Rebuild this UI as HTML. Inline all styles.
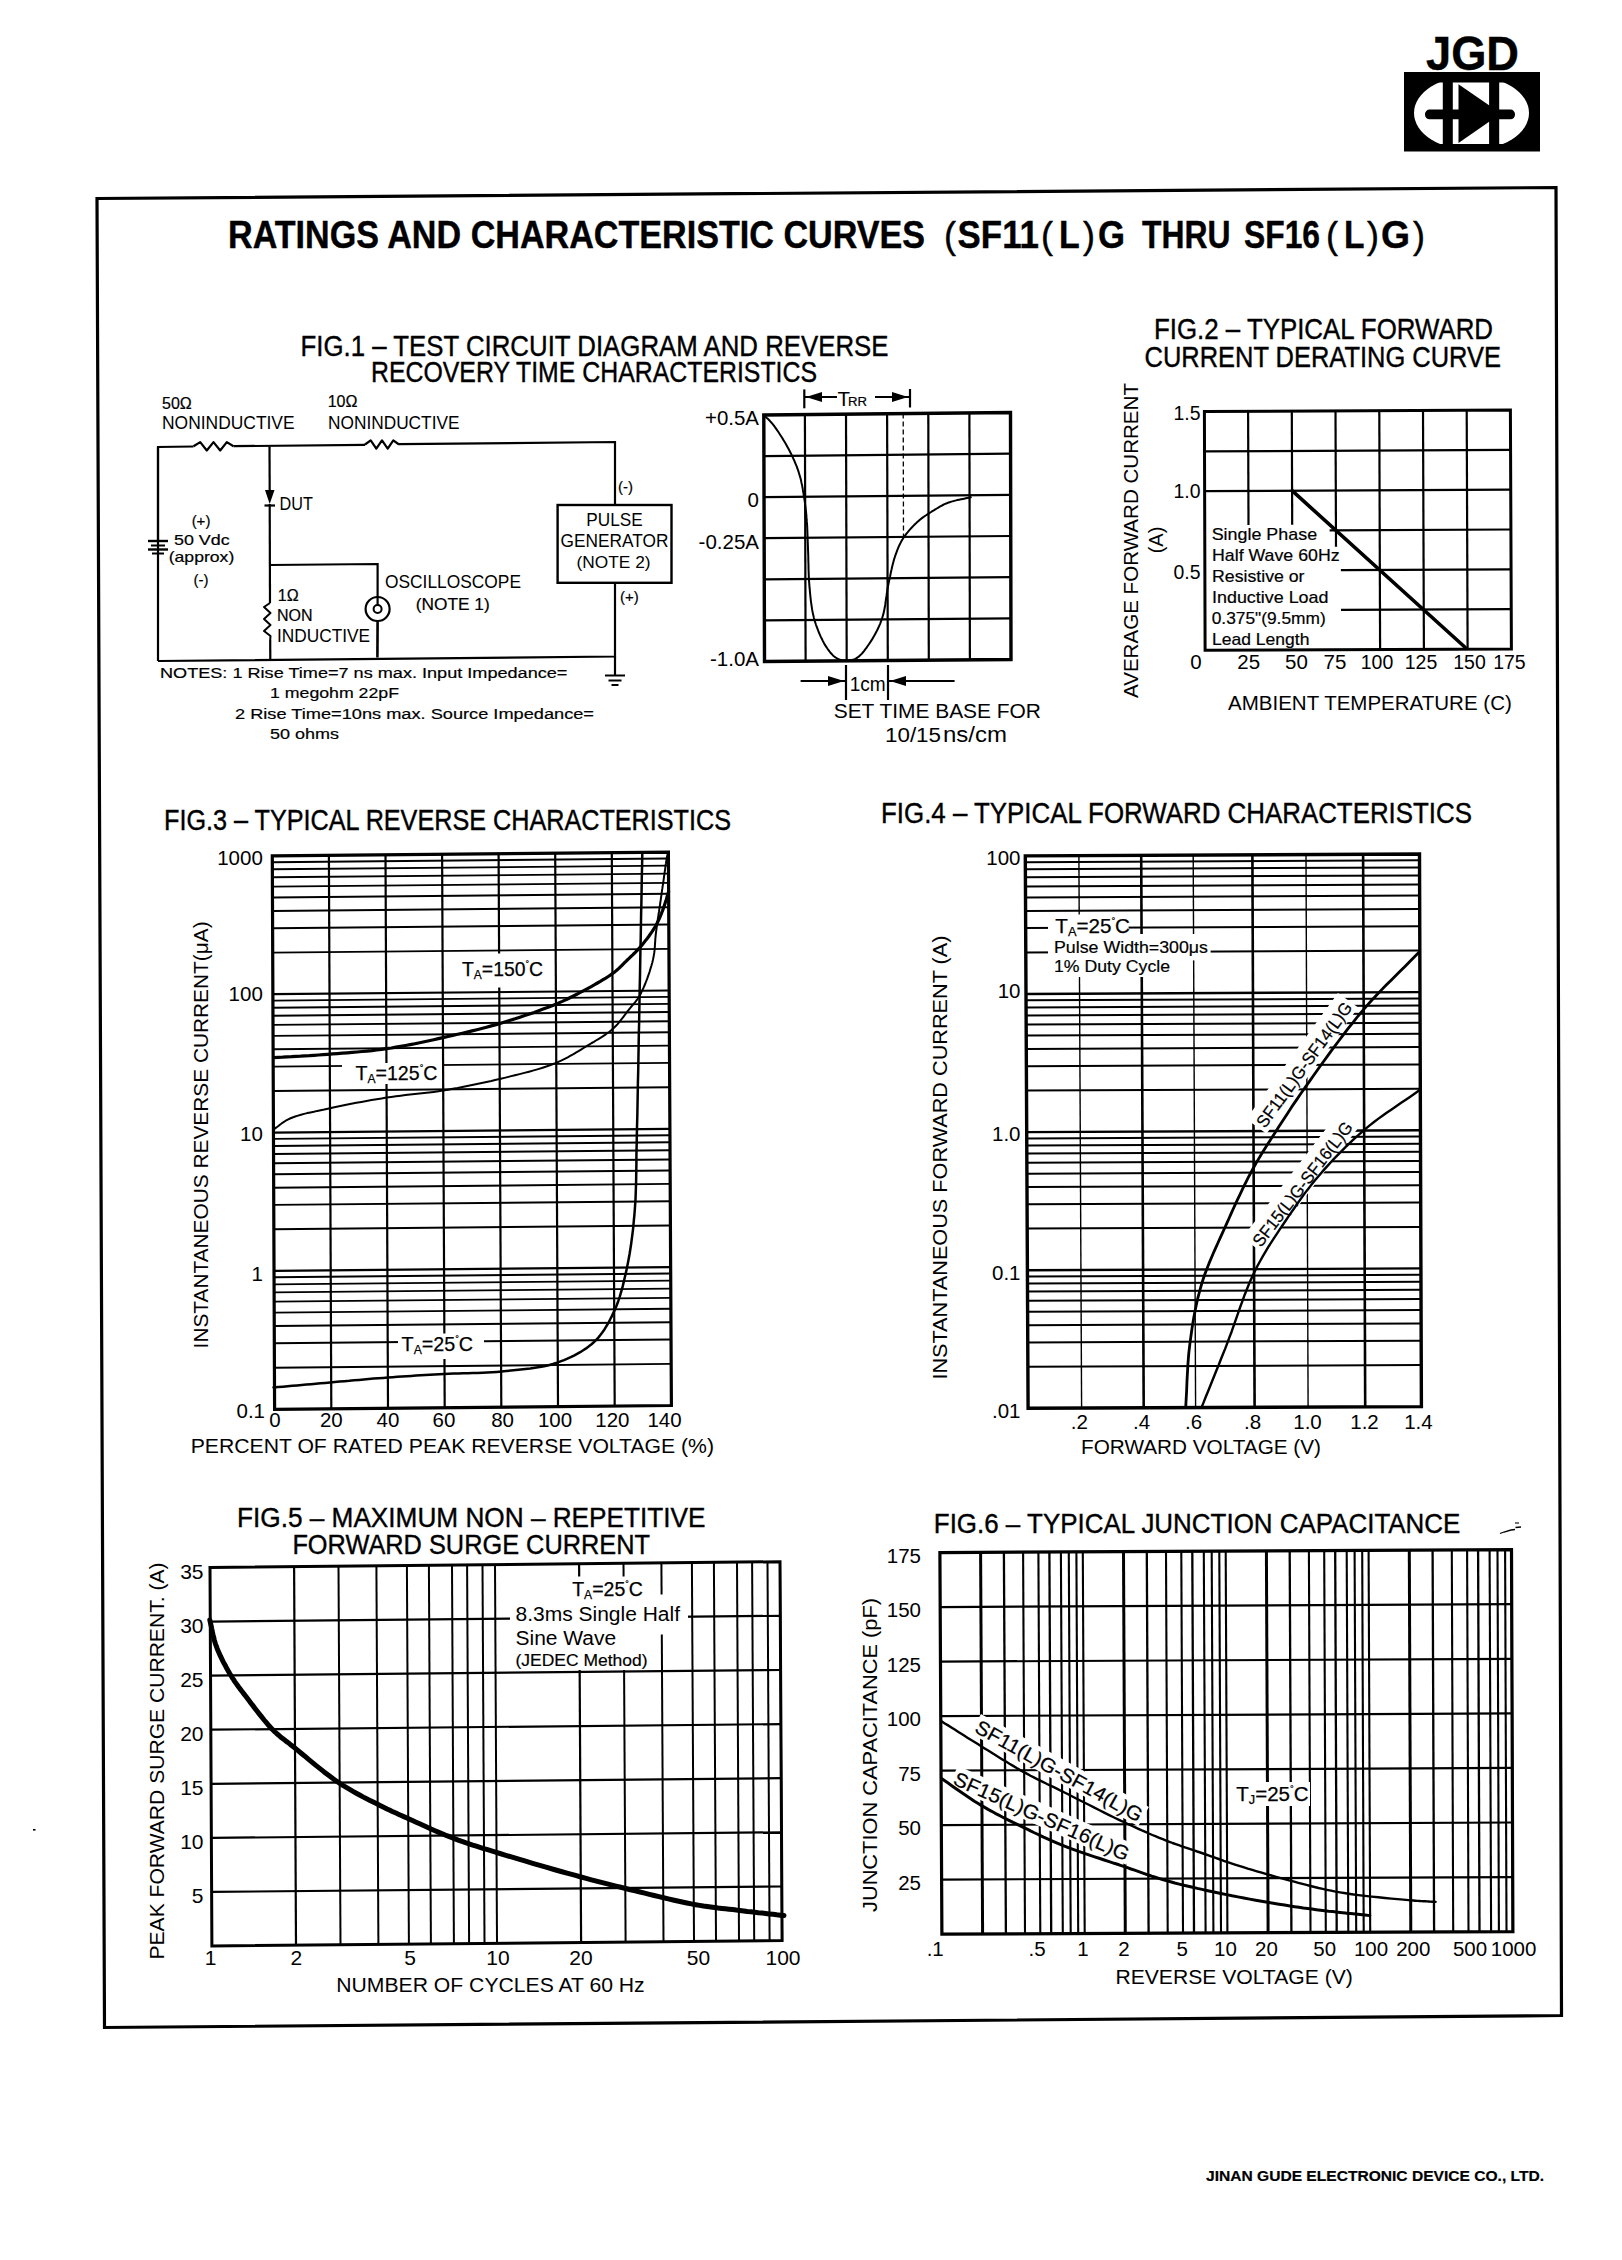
<!DOCTYPE html><html><head><meta charset="utf-8"><style>html,body{margin:0;padding:0;background:#fff;width:1622px;height:2260px;overflow:hidden}svg{display:block}text{font-family:"Liberation Sans",sans-serif;fill:#000;stroke:#000}</style></head><body>
<svg width="1622" height="2260" viewBox="0 0 1622 2260" stroke="#000" fill="none">
<polygon points="97.0,198.5 1556.0,187.5 1561.5,2015.5 104.5,2027.5" stroke-width="3.2" fill="none" stroke-linejoin="miter"/>
<text x="1472.5" y="70.2" font-size="48.5" stroke-width="0.40" text-anchor="middle" font-weight="bold" textLength="93" lengthAdjust="spacingAndGlyphs" >JGD</text>
<rect x="1404" y="72" width="136" height="79.5" fill="#000" stroke="none"/>
<clipPath id="lc"><rect x="1400" y="82.5" width="150" height="61.5"/></clipPath>
<ellipse cx="1471.5" cy="113" rx="57.5" ry="37" fill="#fff" stroke="none" clip-path="url(#lc)"/>
<rect x="1425" y="109.6" width="90" height="9.6" rx="4.5" fill="#000" stroke="none"/>
<rect x="1442.8" y="80" width="10" height="66" fill="#000" stroke="none"/>
<rect x="1489.1" y="80" width="10.1" height="66" fill="#000" stroke="none"/>
<polygon points="1458.5,84.2 1501,113.5 1458.5,143" fill="#000" stroke="none"/>
<text x="228.0" y="248.4" font-size="39" stroke-width="0.40" font-weight="bold" textLength="697" lengthAdjust="spacingAndGlyphs" >RATINGS AND CHARACTERISTIC CURVES</text>
<text x="944.0" y="248.4" font-size="36" stroke-width="0.40" >(</text>
<text x="957.6" y="248.4" font-size="39" stroke-width="0.40" font-weight="bold" textLength="81.4" lengthAdjust="spacingAndGlyphs" >SF11</text>
<text x="1041.0" y="248.4" font-size="36" stroke-width="0.40" >(</text>
<text x="1059.0" y="248.4" font-size="39" stroke-width="0.40" font-weight="bold" textLength="20.7" lengthAdjust="spacingAndGlyphs" >L</text>
<text x="1083.0" y="248.4" font-size="36" stroke-width="0.40" >)</text>
<text x="1098.0" y="248.4" font-size="39" stroke-width="0.40" font-weight="bold" textLength="27" lengthAdjust="spacingAndGlyphs" >G</text>
<text x="1142.0" y="248.4" font-size="39" stroke-width="0.40" font-weight="bold" textLength="88.5" lengthAdjust="spacingAndGlyphs" >THRU</text>
<text x="1244.0" y="248.4" font-size="39" stroke-width="0.40" font-weight="bold" textLength="76" lengthAdjust="spacingAndGlyphs" >SF16</text>
<text x="1326.0" y="248.4" font-size="36" stroke-width="0.40" >(</text>
<text x="1344.0" y="248.4" font-size="39" stroke-width="0.40" font-weight="bold" textLength="20.5" lengthAdjust="spacingAndGlyphs" >L</text>
<text x="1367.0" y="248.4" font-size="36" stroke-width="0.40" >)</text>
<text x="1381.0" y="248.4" font-size="39" stroke-width="0.40" font-weight="bold" textLength="29" lengthAdjust="spacingAndGlyphs" >G</text>
<text x="1413.0" y="248.4" font-size="36" stroke-width="0.40" >)</text>
<text x="1206.0" y="2181.4" font-size="14.6" stroke-width="0.20" font-weight="bold" textLength="338" lengthAdjust="spacingAndGlyphs" >JINAN GUDE ELECTRONIC DEVICE CO., LTD.</text>
<rect x="33" y="1829" width="2.5" height="1.6" fill="#000" stroke="none"/>
<text x="300.5" y="355.7" font-size="29" stroke-width="0.40" textLength="588" lengthAdjust="spacingAndGlyphs" >FIG.1 – TEST CIRCUIT DIAGRAM AND REVERSE</text>
<text x="371.0" y="382.1" font-size="29" stroke-width="0.40" textLength="446" lengthAdjust="spacingAndGlyphs" >RECOVERY TIME CHARACTERISTICS</text>
<polyline points="158.0,661.0 158.0,447.0 193.5,446.5" stroke-width="2.2" fill="none" />
<polyline points="193.5,446.3 200.2,442.1 206.8,450.5 213.5,442.1 220.2,450.5 226.8,442.1 233.5,446.3" stroke-width="2.2" fill="none" stroke-linejoin="round"/>
<polyline points="233.5,446.2 365.0,444.8" stroke-width="2.2" fill="none" />
<polyline points="365.0,444.5 370.7,440.3 376.3,448.7 382.0,440.3 387.7,448.7 393.3,440.3 399.0,444.5" stroke-width="2.2" fill="none" stroke-linejoin="round"/>
<polyline points="399.0,444.2 615.0,442.0 615.0,505.0" stroke-width="2.2" fill="none" />
<line x1="148.0" y1="541.0" x2="168.0" y2="541.0" stroke-width="2.4" />
<line x1="151.0" y1="545.5" x2="165.0" y2="545.5" stroke-width="2.0" />
<line x1="148.0" y1="549.5" x2="168.0" y2="549.5" stroke-width="2.4" />
<line x1="152.0" y1="553.5" x2="164.0" y2="553.5" stroke-width="2.0" />
<line x1="158.0" y1="447.0" x2="158.0" y2="541.0" stroke-width="2.2" />
<polyline points="158.0,661.0 615.0,656.5 615.0,583.0" stroke-width="2.2" fill="none" />
<line x1="615.0" y1="656.5" x2="615.0" y2="675.0" stroke-width="2.2" />
<line x1="605.0" y1="675.5" x2="625.0" y2="675.5" stroke-width="2.0" />
<line x1="608.5" y1="680.5" x2="621.5" y2="680.5" stroke-width="2.0" />
<line x1="611.5" y1="685.0" x2="618.5" y2="685.0" stroke-width="2.0" />
<line x1="269.5" y1="446.5" x2="269.7" y2="490.0" stroke-width="2.2" />
<polygon points="265,490 274.5,490 269.7,504" fill="#000" stroke="none"/>
<line x1="264.5" y1="505.5" x2="275.0" y2="505.5" stroke-width="2.2" />
<line x1="269.7" y1="504.0" x2="270.0" y2="603.0" stroke-width="2.2" />
<polyline points="603.0,0.0 620.2,0.0 637.5,0.0" stroke-width="0" fill="none" />
<polyline points="270.0,603.0 264.0,607.0 270.5,613.0 264.0,619.0 270.5,625.0 264.0,631.0 270.5,636.0 270.2,640.0" stroke-width="2.0" fill="none" stroke-linejoin="round"/>
<line x1="270.2" y1="640.0" x2="270.3" y2="659.0" stroke-width="2.2" />
<polyline points="270.0,565.0 377.6,564.0 377.6,597.0" stroke-width="2.2" fill="none" />
<circle cx="377.6" cy="609" r="12" stroke-width="2.2"/>
<circle cx="377.6" cy="609" r="4" stroke-width="2"/>
<line x1="377.6" y1="605.0" x2="377.6" y2="597.0" stroke-width="2.2" />
<line x1="377.6" y1="621.0" x2="377.4" y2="657.5" stroke-width="2.6" />
<rect x="557.6" y="505" width="113.9" height="77.8" stroke-width="2.4"/>
<text x="162.0" y="408.7" font-size="16" stroke-width="0.20" >50Ω</text>
<text x="162.0" y="429.0" font-size="18.5" stroke-width="0.00" textLength="132.6" lengthAdjust="spacingAndGlyphs" >NONINDUCTIVE</text>
<text x="327.7" y="406.8" font-size="16" stroke-width="0.20" >10Ω</text>
<text x="328.0" y="428.8" font-size="18.5" stroke-width="0.00" textLength="131.5" lengthAdjust="spacingAndGlyphs" >NONINDUCTIVE</text>
<text x="279.6" y="509.6" font-size="17.5" stroke-width="0.00" textLength="33.3" lengthAdjust="spacingAndGlyphs" >DUT</text>
<text x="201.0" y="526.0" font-size="15" stroke-width="0.20" text-anchor="middle" >(+)</text>
<text x="174.0" y="545.3" font-size="15" stroke-width="0.20" textLength="55.7" lengthAdjust="spacingAndGlyphs" >50 Vdc</text>
<text x="168.7" y="562.0" font-size="15" stroke-width="0.20" textLength="65.6" lengthAdjust="spacingAndGlyphs" >(approx)</text>
<text x="201.0" y="585.0" font-size="15" stroke-width="0.20" text-anchor="middle" >(-)</text>
<text x="277.8" y="600.8" font-size="16" stroke-width="0.20" >1Ω</text>
<text x="277.0" y="621.0" font-size="16" stroke-width="0.20" >NON</text>
<text x="277.0" y="641.5" font-size="17.5" stroke-width="0.00" textLength="93" lengthAdjust="spacingAndGlyphs" >INDUCTIVE</text>
<text x="385.0" y="587.5" font-size="17.5" stroke-width="0.00" textLength="136" lengthAdjust="spacingAndGlyphs" >OSCILLOSCOPE</text>
<text x="415.7" y="609.6" font-size="16.5" stroke-width="0.20" textLength="74" lengthAdjust="spacingAndGlyphs" >(NOTE 1)</text>
<text x="614.5" y="526.0" font-size="17.5" stroke-width="0.00" text-anchor="middle" textLength="56.4" lengthAdjust="spacingAndGlyphs" >PULSE</text>
<text x="614.5" y="546.7" font-size="17.5" stroke-width="0.00" text-anchor="middle" textLength="107.8" lengthAdjust="spacingAndGlyphs" >GENERATOR</text>
<text x="613.6" y="567.5" font-size="17" stroke-width="0.00" text-anchor="middle" textLength="74" lengthAdjust="spacingAndGlyphs" >(NOTE 2)</text>
<text x="618.0" y="492.0" font-size="15" stroke-width="0.20" >(-)</text>
<text x="620.0" y="602.0" font-size="15" stroke-width="0.20" >(+)</text>
<text x="160.0" y="678.0" font-size="15.5" stroke-width="0.20" textLength="407.4" lengthAdjust="spacingAndGlyphs" >NOTES:  1 Rise Time=7 ns max. Input Impedance=</text>
<text x="270.0" y="698.0" font-size="15.5" stroke-width="0.20" textLength="129" lengthAdjust="spacingAndGlyphs" >1 megohm 22pF</text>
<text x="235.0" y="718.6" font-size="15.5" stroke-width="0.20" textLength="359" lengthAdjust="spacingAndGlyphs" >2  Rise Time=10ns max. Source Impedance=</text>
<text x="270.0" y="739.0" font-size="15.5" stroke-width="0.20" textLength="69" lengthAdjust="spacingAndGlyphs" >50 ohms</text>
<line x1="804.9" y1="414.6" x2="805.6" y2="661.2" stroke-width="2.2" />
<line x1="763.9" y1="456.1" x2="1010.6" y2="453.7" stroke-width="2.2" />
<line x1="846.0" y1="414.2" x2="846.7" y2="660.8" stroke-width="2.2" />
<line x1="764.0" y1="497.2" x2="1010.7" y2="494.8" stroke-width="2.2" />
<line x1="887.1" y1="413.8" x2="887.8" y2="660.5" stroke-width="2.2" />
<line x1="764.1" y1="538.2" x2="1010.8" y2="536.0" stroke-width="2.2" />
<line x1="928.3" y1="413.3" x2="928.8" y2="660.2" stroke-width="2.2" />
<line x1="764.3" y1="579.3" x2="1010.8" y2="577.2" stroke-width="2.2" />
<line x1="969.4" y1="412.9" x2="969.9" y2="659.8" stroke-width="2.2" />
<line x1="764.4" y1="620.4" x2="1010.9" y2="618.3" stroke-width="2.2" />
<polygon points="763.8,415.0 1010.5,412.5 1011.0,659.5 764.5,661.5" stroke-width="3.4" fill="none" />
<line x1="903.2" y1="413.6" x2="903.5" y2="539.0" stroke-width="1.3" stroke-dasharray="5,3"/>
<polyline points="763.8,415.0 764.6,415.8 765.3,416.5 766.0,417.2 766.8,417.9 767.5,418.6 768.3,419.3 769.0,420.0 769.8,420.8 770.5,421.6 771.3,422.5 772.1,423.4 772.9,424.4 774.2,426.0 775.5,427.9 776.9,429.9 778.4,432.0 779.8,434.2 781.3,436.5 782.8,438.9 784.2,441.3 785.6,443.6 786.9,446.0 788.2,448.3 789.4,450.5 790.4,452.5 791.4,454.4 792.3,456.4 793.2,458.4 794.1,460.3 795.0,462.3 795.8,464.3 796.6,466.2 797.3,468.2 798.0,470.2 798.7,472.2 799.3,474.2 799.9,476.2 800.5,478.3 801.0,480.3 801.4,482.4 801.9,484.4 802.3,486.5 802.7,488.6 803.0,490.7 803.4,492.7 803.7,494.8 804.0,496.8 804.3,498.8 804.6,500.7 804.9,502.6 805.1,504.4 805.4,506.3 805.6,508.1 805.8,509.9 806.0,511.7 806.2,513.6 806.4,515.5 806.5,517.4 806.7,519.4 806.8,521.4 807.0,523.9 807.2,526.5 807.3,529.2 807.4,531.9 807.5,534.7 807.6,537.5 807.7,540.3 807.8,543.1 807.9,545.9 808.0,548.7 808.1,551.5 808.2,554.3 808.3,557.0 808.3,559.8 808.4,562.5 808.5,565.3 808.5,568.0 808.6,570.7 808.7,573.5 808.8,576.2 808.9,579.0 809.1,581.7 809.3,584.4 809.5,587.2 809.8,589.9 810.0,592.7 810.3,595.5 810.6,598.3 810.9,601.1 811.3,603.9 811.7,606.6 812.1,609.4 812.6,612.1 813.2,614.8 813.8,617.4 814.5,620.0 815.2,622.4 816.0,624.8 816.9,627.2 817.8,629.6 818.7,632.0 819.7,634.3 820.7,636.6 821.8,638.8 822.8,640.9 823.9,643.0 825.0,644.9 826.1,646.6 826.9,647.8 827.7,649.0 828.5,650.1 829.3,651.2 830.2,652.3 831.0,653.3 831.9,654.2 832.7,655.1 833.6,656.0 834.5,656.7 835.4,657.4 836.4,658.0 837.2,658.5 838.0,658.9 838.8,659.3 839.7,659.6 840.6,659.9 841.4,660.2 842.3,660.4 843.2,660.6 844.1,660.7 844.9,660.8 845.8,660.8 846.7,660.8 847.5,660.8 848.4,660.7 849.3,660.6 850.1,660.5 851.0,660.3 851.9,660.1 852.7,659.8 853.6,659.5 854.4,659.2 855.3,658.8 856.1,658.4 856.9,657.9 858.0,657.2 859.0,656.4 859.9,655.5 860.9,654.6 861.9,653.6 862.8,652.5 863.8,651.3 864.7,650.1 865.6,648.9 866.6,647.6 867.5,646.3 868.4,645.0 869.6,643.2 870.8,641.4 872.1,639.4 873.3,637.3 874.5,635.2 875.7,633.0 876.9,630.8 878.0,628.5 879.1,626.1 880.1,623.8 881.0,621.4 881.9,619.0 882.7,616.3 883.5,613.6 884.1,610.7 884.7,607.8 885.2,604.9 885.6,601.9 886.0,598.9 886.5,595.9 886.9,593.0 887.3,590.1 887.8,587.2 888.4,584.4 888.9,581.9 889.4,579.4 890.0,576.8 890.5,574.3 891.0,571.8 891.6,569.3 892.1,566.9 892.7,564.5 893.3,562.2 893.9,559.9 894.6,557.7 895.3,555.6 895.9,553.9 896.5,552.3 897.1,550.7 897.7,549.2 898.3,547.7 898.9,546.2 899.6,544.8 900.3,543.4 901.0,542.0 901.8,540.6 902.6,539.2 903.5,537.8 904.5,536.3 905.6,534.8 906.7,533.3 908.0,531.8 909.2,530.4 910.5,528.9 911.8,527.5 913.1,526.1 914.4,524.8 915.7,523.6 917.0,522.3 918.2,521.2 919.2,520.4 920.1,519.6 921.1,518.8 922.0,518.1 922.9,517.4 923.8,516.8 924.7,516.1 925.7,515.5 926.6,514.9 927.6,514.2 928.7,513.6 929.7,512.9 931.1,512.0 932.4,511.1 933.8,510.3 935.3,509.4 936.8,508.5 938.3,507.6 939.8,506.7 941.4,505.8 942.9,505.0 944.5,504.2 946.2,503.5 947.8,502.8 949.6,502.2 951.4,501.6 953.3,501.1 955.2,500.6 957.1,500.1 959.1,499.7 961.0,499.3 963.0,498.9 965.0,498.5 966.9,498.1 968.9,497.7 970.8,497.3" stroke-width="2.0" fill="none" stroke-linejoin="round" stroke-linecap="round"/>
<text x="759.0" y="425.0" font-size="20.5" stroke-width="0.00" text-anchor="end" textLength="54" lengthAdjust="spacingAndGlyphs" >+0.5A</text>
<text x="759.0" y="506.5" font-size="20.5" stroke-width="0.00" text-anchor="end" >0</text>
<text x="759.0" y="549.0" font-size="20.5" stroke-width="0.00" text-anchor="end" >-0.25A</text>
<text x="759.0" y="665.5" font-size="20.5" stroke-width="0.00" text-anchor="end" >-1.0A</text>
<line x1="804.3" y1="389.4" x2="804.3" y2="408.3" stroke-width="2.2" />
<line x1="910.0" y1="389.0" x2="910.0" y2="407.5" stroke-width="2.2" />
<line x1="804.3" y1="397.0" x2="837.0" y2="397.0" stroke-width="2.0" />
<polygon points="806,397 822,392 822,402" fill="#000" stroke="none"/>
<line x1="875.0" y1="397.0" x2="910.0" y2="397.0" stroke-width="2.0" />
<polygon points="908,397 892,392 892,402" fill="#000" stroke="none"/>
<text x="837.6" y="405.5" font-size="20.5" stroke-width="0.00" >T</text>
<text x="848.0" y="405.5" font-size="12.5" stroke-width="0.20" textLength="19" lengthAdjust="spacingAndGlyphs" >RR</text>
<line x1="846.0" y1="665.0" x2="846.0" y2="700.0" stroke-width="2.2" />
<line x1="888.0" y1="665.0" x2="888.0" y2="700.0" stroke-width="2.2" />
<line x1="800.6" y1="681.0" x2="846.0" y2="681.0" stroke-width="2.0" />
<polygon points="844,681 828,676 828,686" fill="#000" stroke="none"/>
<line x1="888.0" y1="681.0" x2="954.6" y2="681.0" stroke-width="2.0" />
<polygon points="890,681 906,676 906,686" fill="#000" stroke="none"/>
<text x="849.7" y="691.4" font-size="20" stroke-width="0.00" textLength="36" lengthAdjust="spacingAndGlyphs" >1cm</text>
<text x="833.7" y="717.6" font-size="20.5" stroke-width="0.00" textLength="207.3" lengthAdjust="spacingAndGlyphs" >SET TIME BASE FOR</text>
<text x="885.0" y="741.5" font-size="20.5" stroke-width="0.00" textLength="56" lengthAdjust="spacingAndGlyphs" >10/15</text>
<text x="943.0" y="741.5" font-size="22" stroke-width="0.00" textLength="64" lengthAdjust="spacingAndGlyphs" >ns/cm</text>
<text x="1154.0" y="339.1" font-size="29" stroke-width="0.40" textLength="339" lengthAdjust="spacingAndGlyphs" >FIG.2 – TYPICAL FORWARD</text>
<text x="1144.5" y="367.0" font-size="29" stroke-width="0.40" textLength="356.5" lengthAdjust="spacingAndGlyphs" >CURRENT DERATING CURVE</text>
<line x1="1248.1" y1="411.4" x2="1248.5" y2="524.9" stroke-width="2.2" />
<line x1="1291.8" y1="411.1" x2="1292.2" y2="524.7" stroke-width="2.2" />
<line x1="1335.5" y1="410.9" x2="1336.0" y2="546.7" stroke-width="2.2" />
<line x1="1379.3" y1="410.7" x2="1380.1" y2="649.5" stroke-width="2.2" />
<line x1="1423.0" y1="410.5" x2="1423.9" y2="649.3" stroke-width="2.2" />
<line x1="1466.7" y1="410.2" x2="1467.6" y2="649.1" stroke-width="2.2" />
<line x1="1204.5" y1="451.4" x2="1510.6" y2="449.8" stroke-width="2.2" />
<line x1="1204.6" y1="491.2" x2="1510.7" y2="489.6" stroke-width="2.2" />
<line x1="1329.6" y1="530.3" x2="1510.9" y2="529.5" stroke-width="2.2" />
<line x1="1340.9" y1="570.1" x2="1511.1" y2="569.3" stroke-width="2.2" />
<line x1="1341.0" y1="609.9" x2="1511.2" y2="609.1" stroke-width="2.2" />
<polygon points="1204.4,411.6 1510.4,410.0 1511.4,648.9 1205.1,650.3" stroke-width="3.0" fill="none" />
<line x1="1292.1" y1="490.7" x2="1465.3" y2="647.5" stroke-width="3.6" stroke-linecap="round"/>
<text x="1200.5" y="419.9" font-size="20.5" stroke-width="0.00" text-anchor="end" textLength="27" lengthAdjust="spacingAndGlyphs" >1.5</text>
<text x="1200.5" y="497.6" font-size="20.5" stroke-width="0.00" text-anchor="end" textLength="27" lengthAdjust="spacingAndGlyphs" >1.0</text>
<text x="1200.5" y="579.2" font-size="20.5" stroke-width="0.00" text-anchor="end" textLength="27" lengthAdjust="spacingAndGlyphs" >0.5</text>
<text x="1196.0" y="669.3" font-size="20.5" stroke-width="0.00" text-anchor="middle" >0</text>
<text x="1248.7" y="669.3" font-size="20.5" stroke-width="0.00" text-anchor="middle" >25</text>
<text x="1296.5" y="669.3" font-size="20.5" stroke-width="0.00" text-anchor="middle" >50</text>
<text x="1335.0" y="669.3" font-size="20.5" stroke-width="0.00" text-anchor="middle" >75</text>
<text x="1377.0" y="669.3" font-size="20.5" stroke-width="0.00" text-anchor="middle" textLength="32.5" lengthAdjust="spacingAndGlyphs" >100</text>
<text x="1421.0" y="669.3" font-size="20.5" stroke-width="0.00" text-anchor="middle" textLength="32.5" lengthAdjust="spacingAndGlyphs" >125</text>
<text x="1469.5" y="669.3" font-size="20.5" stroke-width="0.00" text-anchor="middle" textLength="32.5" lengthAdjust="spacingAndGlyphs" >150</text>
<text x="1509.4" y="669.3" font-size="20.5" stroke-width="0.00" text-anchor="middle" textLength="32.5" lengthAdjust="spacingAndGlyphs" >175</text>
<text x="1228.0" y="709.5" font-size="20.5" stroke-width="0.00" textLength="283.8" lengthAdjust="spacingAndGlyphs" >AMBIENT TEMPERATURE (C)</text>
<text x="1137.8" y="698.0" font-size="20.8" stroke-width="0.00" textLength="315" lengthAdjust="spacingAndGlyphs" transform="rotate(-90 1137.8 698.0)" >AVERAGE FORWARD CURRENT</text>
<text x="1163.4" y="540.0" font-size="20" stroke-width="0.00" text-anchor="middle" transform="rotate(-90 1163.4 540.0)" >(A)</text>
<text x="1211.7" y="540.4" font-size="16.2" stroke-width="0.20" textLength="105.4" lengthAdjust="spacingAndGlyphs" >Single Phase</text>
<text x="1212.0" y="561.4" font-size="16.2" stroke-width="0.20" textLength="127.6" lengthAdjust="spacingAndGlyphs" >Half Wave 60Hz</text>
<text x="1212.0" y="582.3" font-size="16.2" stroke-width="0.20" textLength="92.5" lengthAdjust="spacingAndGlyphs" >Resistive or</text>
<text x="1212.0" y="603.3" font-size="16.2" stroke-width="0.20" textLength="116.5" lengthAdjust="spacingAndGlyphs" >Inductive Load</text>
<text x="1211.7" y="623.6" font-size="16.2" stroke-width="0.20" textLength="114" lengthAdjust="spacingAndGlyphs" >0.375"(9.5mm)</text>
<text x="1212.0" y="644.6" font-size="16.2" stroke-width="0.20" textLength="97.4" lengthAdjust="spacingAndGlyphs" >Lead Length</text>
<text x="164.0" y="829.8" font-size="29" stroke-width="0.40" textLength="567" lengthAdjust="spacingAndGlyphs" >FIG.3 – TYPICAL REVERSE CHARACTERISTICS</text>
<line x1="274.4" y1="1367.7" x2="671.2" y2="1363.9" stroke-width="1.9" />
<line x1="274.3" y1="1343.3" x2="671.0" y2="1339.5" stroke-width="1.9" />
<line x1="274.3" y1="1326.0" x2="670.9" y2="1322.2" stroke-width="1.9" />
<line x1="274.2" y1="1312.6" x2="670.9" y2="1308.8" stroke-width="1.9" />
<line x1="274.2" y1="1301.6" x2="670.8" y2="1297.9" stroke-width="1.9" />
<line x1="274.1" y1="1292.4" x2="670.8" y2="1288.6" stroke-width="1.9" />
<line x1="274.1" y1="1284.4" x2="670.7" y2="1280.6" stroke-width="1.9" />
<line x1="274.1" y1="1277.3" x2="670.7" y2="1273.5" stroke-width="1.9" />
<line x1="274.0" y1="1270.9" x2="670.6" y2="1267.2" stroke-width="2.2" />
<line x1="273.9" y1="1229.3" x2="670.4" y2="1225.5" stroke-width="1.9" />
<line x1="273.8" y1="1204.9" x2="670.3" y2="1201.2" stroke-width="1.9" />
<line x1="273.7" y1="1187.7" x2="670.2" y2="1183.9" stroke-width="1.9" />
<line x1="273.6" y1="1174.2" x2="670.1" y2="1170.5" stroke-width="1.9" />
<line x1="273.6" y1="1163.3" x2="670.1" y2="1159.5" stroke-width="1.9" />
<line x1="273.5" y1="1154.0" x2="670.0" y2="1150.3" stroke-width="1.9" />
<line x1="273.5" y1="1146.0" x2="670.0" y2="1142.3" stroke-width="1.9" />
<line x1="273.5" y1="1138.9" x2="669.9" y2="1135.2" stroke-width="1.9" />
<line x1="273.5" y1="1132.6" x2="669.9" y2="1128.8" stroke-width="2.2" />
<line x1="273.3" y1="1091.0" x2="669.7" y2="1087.2" stroke-width="1.9" />
<line x1="273.2" y1="1066.6" x2="669.5" y2="1062.9" stroke-width="1.9" />
<line x1="273.1" y1="1049.3" x2="669.4" y2="1045.6" stroke-width="1.9" />
<line x1="273.0" y1="1035.9" x2="669.4" y2="1032.2" stroke-width="1.9" />
<line x1="273.0" y1="1024.9" x2="669.3" y2="1021.2" stroke-width="1.9" />
<line x1="273.0" y1="1015.7" x2="669.3" y2="1012.0" stroke-width="1.9" />
<line x1="272.9" y1="1007.7" x2="669.2" y2="1003.9" stroke-width="1.9" />
<line x1="272.9" y1="1000.6" x2="669.2" y2="996.9" stroke-width="1.9" />
<line x1="272.9" y1="994.2" x2="669.1" y2="990.5" stroke-width="2.2" />
<line x1="272.7" y1="952.6" x2="668.9" y2="948.9" stroke-width="1.9" />
<line x1="272.6" y1="928.2" x2="668.8" y2="924.5" stroke-width="1.9" />
<line x1="272.5" y1="911.0" x2="668.7" y2="907.2" stroke-width="1.9" />
<line x1="272.5" y1="897.5" x2="668.6" y2="893.8" stroke-width="1.9" />
<line x1="272.4" y1="886.6" x2="668.6" y2="882.9" stroke-width="1.9" />
<line x1="272.4" y1="877.3" x2="668.5" y2="873.6" stroke-width="1.9" />
<line x1="272.4" y1="869.3" x2="668.5" y2="865.6" stroke-width="1.9" />
<line x1="272.3" y1="862.2" x2="668.4" y2="858.5" stroke-width="1.9" />
<line x1="328.9" y1="855.4" x2="331.3" y2="1408.8" stroke-width="2.2" />
<line x1="385.5" y1="854.8" x2="388.0" y2="1408.2" stroke-width="2.2" />
<line x1="442.1" y1="854.3" x2="444.7" y2="1407.7" stroke-width="2.2" />
<line x1="498.6" y1="853.8" x2="501.3" y2="1407.1" stroke-width="2.2" />
<line x1="555.2" y1="853.3" x2="558.0" y2="1406.6" stroke-width="2.2" />
<line x1="611.8" y1="852.7" x2="614.7" y2="1406.0" stroke-width="2.2" />
<polygon points="272.3,855.9 668.4,852.2 671.4,1405.5 274.6,1409.3" stroke-width="3.2" fill="none" />
<rect x="454.0" y="953.5" width="94.0" height="34.0" fill="#fff" stroke="none"/>
<rect x="342.0" y="1063.0" width="100.0" height="21.0" fill="#fff" stroke="none"/>
<rect x="398.0" y="1333.5" width="86.0" height="25.5" fill="#fff" stroke="none"/>
<polyline points="273.5,1057.6 278.0,1057.3 282.5,1057.1 287.0,1056.8 291.5,1056.6 296.0,1056.3 300.5,1056.1 305.0,1055.8 309.5,1055.6 314.0,1055.3 318.5,1055.0 323.1,1054.6 327.7,1054.3 332.5,1053.9 337.4,1053.6 342.3,1053.2 347.2,1052.8 352.1,1052.4 357.1,1052.0 362.0,1051.5 366.9,1051.1 371.9,1050.6 376.8,1050.0 381.6,1049.4 386.5,1048.7 391.3,1048.0 396.0,1047.2 400.7,1046.4 405.5,1045.5 410.2,1044.6 414.9,1043.7 419.6,1042.7 424.3,1041.7 429.0,1040.7 433.7,1039.7 438.4,1038.6 443.1,1037.6 447.9,1036.5 452.7,1035.4 457.6,1034.3 462.4,1033.2 467.2,1032.1 472.1,1030.9 476.9,1029.7 481.7,1028.5 486.5,1027.2 491.3,1025.9 496.1,1024.6 500.8,1023.2 505.5,1021.8 510.2,1020.3 515.1,1018.8 519.9,1017.2 524.7,1015.6 529.5,1014.0 534.2,1012.4 538.7,1010.7 543.1,1009.1 547.4,1007.5 551.4,1005.9 555.2,1004.4 557.7,1003.4 560.0,1002.4 562.3,1001.4 564.4,1000.4 566.4,999.5 568.5,998.5 570.4,997.5 572.4,996.5 574.4,995.5 576.4,994.5 578.5,993.4 580.7,992.2 583.3,990.8 586.1,989.3 588.9,987.8 591.7,986.3 594.6,984.7 597.5,983.0 600.3,981.4 603.1,979.7 605.8,978.1 608.3,976.5 610.7,974.9 612.9,973.3 614.4,972.2 615.7,971.1 617.0,970.0 618.3,968.9 619.5,967.8 620.6,966.7 621.7,965.6 622.8,964.5 623.9,963.3 625.0,962.2 626.2,961.1 627.3,960.0 628.5,958.9 629.6,957.8 630.7,956.7 631.9,955.6 633.0,954.6 634.1,953.5 635.3,952.4 636.4,951.2 637.5,950.1 638.6,948.9 639.7,947.7 640.8,946.4 642.1,944.9 643.4,943.3 644.7,941.6 646.0,939.9 647.4,938.2 648.7,936.5 649.9,934.7 651.2,932.9 652.4,931.2 653.5,929.4 654.6,927.7 655.6,926.0 656.4,924.6 657.1,923.2 657.8,921.8 658.5,920.4 659.1,919.1 659.7,917.7 660.3,916.3 660.8,915.0 661.4,913.6 661.9,912.2 662.5,910.8 663.0,909.4 663.5,908.0 664.0,906.5 664.5,905.1 665.0,903.6 665.5,902.1 665.9,900.7 666.4,899.2 666.8,897.7 667.2,896.2 667.7,894.7 668.1,893.3 668.6,891.8" stroke-width="3.2" fill="none" stroke-linejoin="round" stroke-linecap="round"/>
<polyline points="273.5,1129.5 274.8,1128.6 276.1,1127.6 277.4,1126.7 278.7,1125.7 279.9,1124.7 281.2,1123.8 282.5,1122.8 283.9,1121.9 285.3,1121.0 286.7,1120.1 288.3,1119.3 290.0,1118.5 292.5,1117.5 295.2,1116.5 298.0,1115.6 301.0,1114.7 304.1,1113.9 307.2,1113.1 310.5,1112.4 313.9,1111.7 317.3,1110.9 320.7,1110.2 324.2,1109.5 327.7,1108.7 332.1,1107.7 336.7,1106.7 341.5,1105.8 346.3,1104.8 351.3,1103.8 356.3,1102.8 361.4,1101.9 366.5,1101.0 371.5,1100.1 376.6,1099.2 381.6,1098.4 386.5,1097.6 391.2,1096.9 396.0,1096.3 400.7,1095.7 405.4,1095.1 410.1,1094.6 414.8,1094.1 419.5,1093.6 424.2,1093.1 429.0,1092.5 433.7,1091.9 438.4,1091.2 443.1,1090.5 447.9,1089.7 452.7,1088.8 457.6,1088.0 462.4,1087.1 467.2,1086.1 472.1,1085.1 476.9,1084.1 481.7,1083.1 486.5,1082.0 491.3,1081.0 496.1,1079.8 500.8,1078.7 505.5,1077.6 510.2,1076.4 514.9,1075.3 519.6,1074.1 524.3,1072.9 529.0,1071.7 533.7,1070.4 538.2,1069.1 542.7,1067.7 547.0,1066.3 551.2,1064.8 555.2,1063.2 558.4,1061.8 561.6,1060.4 564.7,1058.8 567.7,1057.3 570.6,1055.7 573.5,1054.1 576.3,1052.4 579.0,1050.8 581.8,1049.1 584.4,1047.5 587.0,1045.9 589.6,1044.3 591.7,1043.0 593.9,1041.8 595.9,1040.5 598.0,1039.3 600.0,1038.1 602.0,1036.9 603.9,1035.6 605.8,1034.3 607.6,1033.0 609.4,1031.7 611.2,1030.3 612.9,1028.8 614.5,1027.3 616.0,1025.7 617.6,1024.1 619.0,1022.4 620.4,1020.6 621.8,1018.9 623.2,1017.1 624.5,1015.4 625.8,1013.7 627.0,1012.0 628.3,1010.4 629.5,1008.8 630.5,1007.6 631.4,1006.5 632.4,1005.4 633.3,1004.3 634.1,1003.3 635.0,1002.3 635.9,1001.2 636.7,1000.1 637.5,999.0 638.4,997.7 639.2,996.4 640.0,995.0 641.2,992.7 642.4,990.1 643.7,987.4 644.9,984.5 646.1,981.5 647.3,978.4 648.4,975.2 649.5,972.1 650.4,968.9 651.4,965.8 652.2,962.9 652.9,960.0 653.4,957.6 653.8,955.3 654.2,953.0 654.5,950.7 654.7,948.4 654.9,946.1 655.0,943.8 655.2,941.6 655.3,939.3 655.5,937.1 655.7,934.8 656.0,932.5 656.3,930.2 656.6,927.9 656.9,925.6 657.3,923.3 657.6,921.0 657.9,918.7 658.3,916.3 658.6,914.0 659.0,911.7 659.3,909.4 659.7,907.1 660.0,904.8 660.3,902.5 660.7,900.1 661.0,897.7 661.4,895.3 661.7,892.9 662.0,890.6 662.4,888.2 662.7,885.9 663.1,883.6 663.4,881.3 663.7,879.1 664.0,877.0 664.2,875.3 664.5,873.6 664.7,871.9 665.0,870.1 665.2,868.5 665.4,866.8 665.6,865.2 665.9,863.7 666.1,862.3 666.3,860.9 666.5,859.6 666.7,858.5 666.8,857.9 666.9,857.4 667.0,856.9 667.1,856.4 667.3,856.0 667.4,855.5 667.5,855.1 667.6,854.7 667.7,854.3 667.8,853.9 667.9,853.4 668.0,853.0" stroke-width="2.0" fill="none" stroke-linejoin="round" stroke-linecap="round"/>
<polyline points="273.5,1387.5 278.2,1387.1 282.9,1386.7 287.6,1386.2 292.3,1385.8 297.0,1385.4 301.7,1385.0 306.4,1384.6 311.1,1384.2 315.8,1383.7 320.5,1383.3 325.3,1382.9 330.0,1382.5 334.8,1382.1 339.6,1381.6 344.4,1381.2 349.3,1380.8 354.1,1380.3 359.0,1379.9 363.8,1379.5 368.6,1379.1 373.5,1378.6 378.3,1378.2 383.1,1377.9 387.9,1377.5 392.6,1377.2 397.3,1376.8 402.0,1376.5 406.6,1376.2 411.3,1375.9 416.0,1375.6 420.6,1375.3 425.3,1375.0 429.9,1374.8 434.6,1374.5 439.3,1374.3 444.0,1374.0 448.8,1373.8 453.6,1373.6 458.4,1373.5 463.2,1373.3 468.0,1373.2 472.8,1373.1 477.6,1372.9 482.4,1372.8 487.2,1372.6 492.0,1372.3 496.8,1371.9 501.5,1371.5 506.2,1371.0 511.0,1370.6 515.8,1370.1 520.6,1369.6 525.4,1369.1 530.2,1368.5 534.9,1367.8 539.6,1367.1 544.1,1366.2 548.6,1365.2 552.9,1364.0 557.0,1362.7 560.5,1361.4 564.0,1360.1 567.4,1358.7 570.7,1357.2 574.0,1355.6 577.1,1353.9 580.2,1352.2 583.2,1350.3 586.1,1348.4 588.9,1346.3 591.5,1344.2 594.0,1342.0 596.2,1339.8 598.3,1337.6 600.2,1335.2 602.1,1332.8 603.9,1330.3 605.5,1327.7 607.1,1325.0 608.7,1322.3 610.1,1319.5 611.6,1316.7 612.9,1313.8 614.3,1310.9 615.8,1307.6 617.1,1304.2 618.4,1300.7 619.6,1297.1 620.7,1293.4 621.8,1289.7 622.8,1285.9 623.7,1282.1 624.6,1278.2 625.5,1274.4 626.4,1270.4 627.2,1266.5 628.1,1262.1 628.9,1257.7 629.7,1253.3 630.4,1248.8 631.1,1244.3 631.7,1239.7 632.3,1235.1 632.9,1230.4 633.4,1225.6 633.8,1220.8 634.3,1215.9 634.7,1211.0 635.1,1205.3 635.5,1199.6 635.7,1193.8 635.9,1188.0 636.1,1182.1 636.2,1176.1 636.3,1170.0 636.4,1163.7 636.4,1157.3 636.5,1150.8 636.7,1144.0 636.8,1137.0 637.0,1127.1 637.3,1116.6 637.5,1105.8 637.7,1094.6 637.9,1083.1 638.2,1071.4 638.4,1059.5 638.6,1047.6 638.8,1035.6 639.1,1023.6 639.3,1011.7 639.5,1000.0 639.7,987.9 640.0,975.8 640.2,963.6 640.4,951.4 640.7,939.1 640.9,926.8 641.1,914.5 641.4,902.2 641.6,889.9 641.8,877.6 642.1,865.3 642.3,853.0" stroke-width="2.5" fill="none" stroke-linejoin="round" stroke-linecap="round"/>
<text x="462.0" y="975.5" font-size="21" stroke-width="0.25" textLength="81" lengthAdjust="spacingAndGlyphs">T<tspan font-size="13.0" dy="3">A</tspan><tspan dy="-3">=150</tspan><tspan font-size="9.5" dy="-9">°</tspan><tspan dy="9">C</tspan></text>
<text x="355.4" y="1079.8" font-size="21" stroke-width="0.25" textLength="82" lengthAdjust="spacingAndGlyphs">T<tspan font-size="13.0" dy="3">A</tspan><tspan dy="-3">=125</tspan><tspan font-size="9.5" dy="-9">°</tspan><tspan dy="9">C</tspan></text>
<text x="401.6" y="1351.2" font-size="21" stroke-width="0.25" textLength="71.5" lengthAdjust="spacingAndGlyphs">T<tspan font-size="13.0" dy="3">A</tspan><tspan dy="-3">=25</tspan><tspan font-size="9.5" dy="-9">°</tspan><tspan dy="9">C</tspan></text>
<text x="262.8" y="864.5" font-size="20.5" stroke-width="0.00" text-anchor="end" >1000</text>
<text x="262.8" y="1001.0" font-size="20.5" stroke-width="0.00" text-anchor="end" >100</text>
<text x="262.8" y="1140.7" font-size="20.5" stroke-width="0.00" text-anchor="end" >10</text>
<text x="262.8" y="1281.0" font-size="20.5" stroke-width="0.00" text-anchor="end" >1</text>
<text x="265.0" y="1417.6" font-size="20.5" stroke-width="0.00" text-anchor="end" >0.1</text>
<text x="275.0" y="1427.2" font-size="20.5" stroke-width="0.00" text-anchor="middle" >0</text>
<text x="331.3" y="1427.2" font-size="20.5" stroke-width="0.00" text-anchor="middle" >20</text>
<text x="387.9" y="1427.2" font-size="20.5" stroke-width="0.00" text-anchor="middle" >40</text>
<text x="444.0" y="1427.2" font-size="20.5" stroke-width="0.00" text-anchor="middle" >60</text>
<text x="502.6" y="1427.2" font-size="20.5" stroke-width="0.00" text-anchor="middle" >80</text>
<text x="555.0" y="1427.2" font-size="20.5" stroke-width="0.00" text-anchor="middle" >100</text>
<text x="612.4" y="1427.2" font-size="20.5" stroke-width="0.00" text-anchor="middle" >120</text>
<text x="664.5" y="1427.2" font-size="20.5" stroke-width="0.00" text-anchor="middle" >140</text>
<text x="190.7" y="1453.3" font-size="20.5" stroke-width="0.00" textLength="523.3" lengthAdjust="spacingAndGlyphs" >PERCENT OF RATED  PEAK REVERSE VOLTAGE (%)</text>
<text x="207.7" y="1348.4" font-size="20" stroke-width="0.00" textLength="427" lengthAdjust="spacingAndGlyphs" transform="rotate(-90 207.7 1348.4)" >INSTANTANEOUS REVERSE CURRENT(μA)</text>
<text x="881.0" y="822.9" font-size="29" stroke-width="0.40" textLength="591" lengthAdjust="spacingAndGlyphs" >FIG.4 –  TYPICAL FORWARD CHARACTERISTICS</text>
<line x1="1027.9" y1="1366.7" x2="1421.3" y2="1365.0" stroke-width="2.0" />
<line x1="1027.8" y1="1342.4" x2="1421.2" y2="1340.7" stroke-width="2.0" />
<line x1="1027.7" y1="1325.2" x2="1421.1" y2="1323.4" stroke-width="2.0" />
<line x1="1027.6" y1="1311.8" x2="1421.1" y2="1310.0" stroke-width="2.0" />
<line x1="1027.6" y1="1300.8" x2="1421.0" y2="1299.1" stroke-width="2.0" />
<line x1="1027.5" y1="1291.6" x2="1421.0" y2="1289.8" stroke-width="2.0" />
<line x1="1027.5" y1="1283.6" x2="1421.0" y2="1281.8" stroke-width="2.0" />
<line x1="1027.4" y1="1276.5" x2="1420.9" y2="1274.8" stroke-width="2.0" />
<line x1="1027.4" y1="1270.2" x2="1420.9" y2="1268.4" stroke-width="2.4" />
<line x1="1027.2" y1="1228.6" x2="1420.8" y2="1226.9" stroke-width="2.0" />
<line x1="1027.1" y1="1204.3" x2="1420.7" y2="1202.5" stroke-width="2.0" />
<line x1="1027.0" y1="1187.1" x2="1420.6" y2="1185.3" stroke-width="2.0" />
<line x1="1026.9" y1="1173.7" x2="1420.6" y2="1171.9" stroke-width="2.0" />
<line x1="1026.9" y1="1162.7" x2="1420.6" y2="1160.9" stroke-width="2.0" />
<line x1="1026.8" y1="1153.5" x2="1420.5" y2="1151.7" stroke-width="2.0" />
<line x1="1026.8" y1="1145.5" x2="1420.5" y2="1143.7" stroke-width="2.0" />
<line x1="1026.7" y1="1138.4" x2="1420.5" y2="1136.6" stroke-width="2.0" />
<line x1="1026.7" y1="1132.1" x2="1420.5" y2="1130.3" stroke-width="2.4" />
<line x1="1026.5" y1="1090.5" x2="1420.3" y2="1088.7" stroke-width="2.0" />
<line x1="1026.4" y1="1066.2" x2="1420.2" y2="1064.4" stroke-width="2.0" />
<line x1="1026.3" y1="1049.0" x2="1420.2" y2="1047.1" stroke-width="2.0" />
<line x1="1026.2" y1="1035.6" x2="1420.1" y2="1033.7" stroke-width="2.0" />
<line x1="1026.2" y1="1024.6" x2="1420.1" y2="1022.8" stroke-width="2.0" />
<line x1="1026.1" y1="1015.4" x2="1420.0" y2="1013.5" stroke-width="2.0" />
<line x1="1026.1" y1="1007.4" x2="1420.0" y2="1005.5" stroke-width="2.0" />
<line x1="1026.0" y1="1000.3" x2="1420.0" y2="998.5" stroke-width="2.0" />
<line x1="1026.0" y1="994.0" x2="1420.0" y2="992.1" stroke-width="2.4" />
<line x1="1025.8" y1="952.4" x2="1419.8" y2="950.6" stroke-width="2.0" />
<line x1="1025.7" y1="928.1" x2="1419.7" y2="926.2" stroke-width="2.0" />
<line x1="1025.6" y1="910.9" x2="1419.7" y2="909.0" stroke-width="2.0" />
<line x1="1025.5" y1="897.5" x2="1419.6" y2="895.6" stroke-width="2.0" />
<line x1="1025.5" y1="886.5" x2="1419.6" y2="884.6" stroke-width="2.0" />
<line x1="1025.4" y1="877.3" x2="1419.6" y2="875.4" stroke-width="2.0" />
<line x1="1025.4" y1="869.3" x2="1419.5" y2="867.4" stroke-width="2.0" />
<line x1="1025.3" y1="862.2" x2="1419.5" y2="860.3" stroke-width="2.0" />
<line x1="1078.9" y1="855.6" x2="1081.6" y2="1408.1" stroke-width="1.4" />
<line x1="1141.2" y1="855.3" x2="1143.7" y2="1407.8" stroke-width="2.6" />
<line x1="1193.2" y1="855.1" x2="1195.6" y2="1407.6" stroke-width="1.4" />
<line x1="1252.4" y1="854.8" x2="1254.6" y2="1407.3" stroke-width="2.6" />
<line x1="1306.0" y1="854.5" x2="1308.1" y2="1407.1" stroke-width="1.4" />
<line x1="1363.1" y1="854.3" x2="1365.2" y2="1406.8" stroke-width="2.6" />
<polygon points="1025.3,855.9 1419.5,854.0 1421.4,1406.6 1028.1,1408.3" stroke-width="3.4" fill="none" />
<rect x="1048.0" y="914.5" width="80.6" height="31.0" fill="#fff" stroke="none"/>
<rect x="1048.0" y="934.0" width="162.6" height="26.4" fill="#fff" stroke="none"/>
<rect x="1048.0" y="958.0" width="137.0" height="19.0" fill="#fff" stroke="none"/>
<text x="1054.0" y="953.0" font-size="16.2" stroke-width="0.20" textLength="154" lengthAdjust="spacingAndGlyphs" stroke="#000" stroke-width="0.6">Pulse Width=300μs</text>
<text x="1054.0" y="971.5" font-size="16.2" stroke-width="0.20" textLength="116" lengthAdjust="spacingAndGlyphs" >1% Duty Cycle</text>
<text x="1055.3" y="933.3" font-size="20.6" stroke-width="0.25">T<tspan font-size="12.8" dy="3">A</tspan><tspan dy="-3">=25</tspan><tspan font-size="9.3" dy="-9">°</tspan><tspan dy="9">C</tspan></text>
<g transform="translate(1265.0 1129.0) rotate(-54)">
<rect x="-3" y="-21" width="156" height="25" fill="#fff" stroke="none"/>
<text x="0" y="0" font-size="17.5" stroke-width="0.22" textLength="150" lengthAdjust="spacingAndGlyphs">SF11(L)G-SF14(L)G</text>
</g>
<g transform="translate(1261.0 1248.0) rotate(-52.5)">
<rect x="-3" y="-21" width="158" height="25" fill="#fff" stroke="none"/>
<text x="0" y="0" font-size="17.5" stroke-width="0.22" textLength="152" lengthAdjust="spacingAndGlyphs">SF15(L)G-SF16(L)G</text>
</g>
<polyline points="1185.7,1407.4 1186.0,1402.1 1186.3,1396.7 1186.6,1391.4 1186.8,1386.0 1187.0,1380.7 1187.3,1375.3 1187.6,1370.0 1187.9,1364.7 1188.3,1359.4 1188.7,1354.1 1189.3,1348.8 1189.9,1343.6 1190.6,1338.6 1191.3,1333.5 1192.0,1328.5 1192.8,1323.6 1193.6,1318.6 1194.5,1313.7 1195.5,1308.8 1196.5,1303.9 1197.6,1298.9 1198.9,1294.0 1200.2,1289.1 1201.6,1284.2 1203.2,1279.0 1205.0,1273.8 1207.0,1268.6 1209.0,1263.4 1211.2,1258.2 1213.4,1253.0 1215.7,1247.9 1218.0,1242.7 1220.3,1237.6 1222.6,1232.6 1224.9,1227.5 1227.1,1222.6 1229.2,1218.0 1231.2,1213.4 1233.3,1208.7 1235.4,1204.2 1237.5,1199.6 1239.7,1195.1 1241.8,1190.6 1243.9,1186.2 1246.1,1181.9 1248.2,1177.6 1250.4,1173.5 1252.6,1169.4 1254.5,1166.0 1256.4,1162.6 1258.3,1159.4 1260.2,1156.2 1262.1,1153.1 1264.0,1150.0 1265.9,1146.9 1267.9,1143.8 1269.9,1140.7 1271.9,1137.6 1273.9,1134.4 1276.0,1131.2 1278.3,1127.6 1280.6,1124.1 1282.9,1120.5 1285.2,1117.0 1287.5,1113.4 1289.9,1109.8 1292.3,1106.1 1294.8,1102.4 1297.4,1098.6 1300.0,1094.7 1302.8,1090.7 1305.7,1086.6 1309.8,1080.9 1314.1,1074.8 1318.5,1068.5 1323.2,1062.0 1328.0,1055.4 1332.9,1048.7 1337.9,1042.0 1342.9,1035.3 1348.0,1028.7 1353.1,1022.3 1358.1,1016.0 1363.1,1010.1 1367.6,1004.9 1372.2,999.8 1376.9,994.8 1381.5,989.9 1386.2,985.1 1390.9,980.4 1395.6,975.7 1400.3,971.1 1405.0,966.4 1409.6,961.7 1414.3,957.0 1419.0,952.2" stroke-width="2.8" fill="none" stroke-linejoin="round" stroke-linecap="round"/>
<polyline points="1201.6,1407.4 1203.7,1402.1 1205.8,1396.8 1208.0,1391.5 1210.1,1386.3 1212.2,1381.0 1214.3,1375.8 1216.4,1370.5 1218.6,1365.2 1220.7,1359.8 1222.8,1354.5 1225.0,1349.1 1227.1,1343.6 1229.3,1337.7 1231.6,1331.7 1233.7,1325.6 1235.9,1319.4 1238.1,1313.2 1240.2,1307.0 1242.5,1300.8 1244.7,1294.7 1247.1,1288.7 1249.5,1282.8 1252.1,1277.0 1254.7,1271.4 1257.2,1266.4 1259.9,1261.5 1262.6,1256.7 1265.4,1251.9 1268.2,1247.2 1271.1,1242.6 1274.0,1238.1 1277.0,1233.6 1279.9,1229.1 1282.9,1224.8 1285.8,1220.5 1288.7,1216.2 1291.3,1212.4 1293.9,1208.7 1296.4,1205.0 1298.9,1201.5 1301.5,1197.9 1304.0,1194.4 1306.6,1190.9 1309.3,1187.5 1312.0,1184.1 1314.8,1180.6 1317.6,1177.2 1320.6,1173.7 1323.9,1169.9 1327.3,1166.1 1330.8,1162.3 1334.4,1158.4 1338.1,1154.6 1341.8,1150.9 1345.5,1147.1 1349.4,1143.4 1353.3,1139.7 1357.2,1136.1 1361.2,1132.6 1365.2,1129.1 1369.4,1125.6 1373.7,1122.3 1378.1,1118.9 1382.5,1115.7 1387.0,1112.5 1391.6,1109.4 1396.2,1106.2 1400.8,1103.1 1405.4,1100.0 1409.9,1096.9 1414.5,1093.7 1419.0,1090.5" stroke-width="2.4" fill="none" stroke-linejoin="round" stroke-linecap="round"/>
<text x="1020.5" y="865.0" font-size="20.5" stroke-width="0.00" text-anchor="end" >100</text>
<text x="1020.5" y="998.0" font-size="20.5" stroke-width="0.00" text-anchor="end" >10</text>
<text x="1020.5" y="1141.4" font-size="20.5" stroke-width="0.00" text-anchor="end" >1.0</text>
<text x="1020.5" y="1279.6" font-size="20.5" stroke-width="0.00" text-anchor="end" >0.1</text>
<text x="1020.5" y="1417.7" font-size="20.5" stroke-width="0.00" text-anchor="end" >.01</text>
<text x="1079.3" y="1428.5" font-size="20.5" stroke-width="0.00" text-anchor="middle" >.2</text>
<text x="1141.5" y="1428.5" font-size="20.5" stroke-width="0.00" text-anchor="middle" >.4</text>
<text x="1193.5" y="1428.5" font-size="20.5" stroke-width="0.00" text-anchor="middle" >.6</text>
<text x="1252.5" y="1428.5" font-size="20.5" stroke-width="0.00" text-anchor="middle" >.8</text>
<text x="1307.5" y="1428.5" font-size="20.5" stroke-width="0.00" text-anchor="middle" >1.0</text>
<text x="1364.5" y="1428.5" font-size="20.5" stroke-width="0.00" text-anchor="middle" >1.2</text>
<text x="1418.4" y="1428.5" font-size="20.5" stroke-width="0.00" text-anchor="middle" >1.4</text>
<text x="1081.0" y="1454.0" font-size="20.5" stroke-width="0.00" textLength="240" lengthAdjust="spacingAndGlyphs" >FORWARD VOLTAGE (V)</text>
<text x="946.9" y="1379.6" font-size="20.5" stroke-width="0.00" textLength="444" lengthAdjust="spacingAndGlyphs" transform="rotate(-90 946.9 1379.6)" >INSTANTANEOUS FORWARD CURRENT (A)</text>
<text x="237.0" y="1527.1" font-size="28.5" stroke-width="0.40" textLength="468.5" lengthAdjust="spacingAndGlyphs" >FIG.5 – MAXIMUM NON – REPETITIVE</text>
<text x="292.4" y="1553.9" font-size="28.5" stroke-width="0.40" textLength="357.6" lengthAdjust="spacingAndGlyphs" >FORWARD SURGE CURRENT</text>
<line x1="294.1" y1="1566.6" x2="296.0" y2="1945.2" stroke-width="2.2" />
<line x1="338.5" y1="1566.2" x2="340.5" y2="1944.8" stroke-width="2.0" />
<line x1="376.4" y1="1565.8" x2="378.4" y2="1944.4" stroke-width="2.0" />
<line x1="406.9" y1="1565.5" x2="408.9" y2="1944.1" stroke-width="2.0" />
<line x1="428.9" y1="1565.3" x2="430.9" y2="1943.9" stroke-width="2.0" />
<line x1="452.0" y1="1565.0" x2="453.9" y2="1943.7" stroke-width="2.0" />
<line x1="467.1" y1="1564.9" x2="469.1" y2="1943.6" stroke-width="2.0" />
<line x1="482.5" y1="1564.7" x2="484.5" y2="1943.4" stroke-width="2.0" />
<line x1="495.0" y1="1564.6" x2="497.0" y2="1943.3" stroke-width="2.0" />
<line x1="579.1" y1="1563.7" x2="581.1" y2="1942.5" stroke-width="2.2" />
<line x1="623.5" y1="1563.3" x2="625.6" y2="1942.1" stroke-width="2.0" />
<line x1="661.4" y1="1562.9" x2="663.5" y2="1941.7" stroke-width="2.0" />
<line x1="691.9" y1="1562.6" x2="694.0" y2="1941.4" stroke-width="2.0" />
<line x1="713.9" y1="1562.4" x2="716.0" y2="1941.2" stroke-width="2.0" />
<line x1="737.0" y1="1562.1" x2="739.0" y2="1941.0" stroke-width="2.0" />
<line x1="752.1" y1="1562.0" x2="754.2" y2="1940.9" stroke-width="2.0" />
<line x1="767.5" y1="1561.8" x2="769.6" y2="1940.7" stroke-width="2.0" />
<line x1="780.0" y1="1561.7" x2="782.1" y2="1940.6" stroke-width="2.0" />
<line x1="210.3" y1="1621.6" x2="780.3" y2="1615.8" stroke-width="2.2" />
<line x1="210.5" y1="1675.6" x2="780.6" y2="1670.0" stroke-width="2.2" />
<line x1="210.8" y1="1729.7" x2="780.9" y2="1724.1" stroke-width="2.2" />
<line x1="211.1" y1="1783.8" x2="781.2" y2="1778.2" stroke-width="2.2" />
<line x1="211.4" y1="1837.9" x2="781.5" y2="1832.3" stroke-width="2.2" />
<line x1="211.6" y1="1891.9" x2="781.8" y2="1886.5" stroke-width="2.2" />
<polygon points="210.0,1567.5 780.0,1561.7 782.1,1940.6 211.9,1946.0" stroke-width="3.0" fill="none" />
<rect x="510.0" y="1576.5" width="150.0" height="93.5" fill="#fff" stroke="none"/>
<rect x="655.0" y="1594.5" width="33.0" height="40.0" fill="#fff" stroke="none"/>
<text x="572.2" y="1596.2" font-size="19.5" stroke-width="0.25">T<tspan font-size="12.1" dy="3">A</tspan><tspan dy="-3">=25</tspan><tspan font-size="8.8" dy="-9">°</tspan><tspan dy="9">C</tspan></text>
<text x="515.5" y="1621.0" font-size="20" stroke-width="0.00" textLength="164.5" lengthAdjust="spacingAndGlyphs" >8.3ms Single Half</text>
<text x="515.5" y="1645.1" font-size="20" stroke-width="0.00" textLength="100.7" lengthAdjust="spacingAndGlyphs" >Sine Wave</text>
<text x="515.5" y="1665.6" font-size="16.5" stroke-width="0.20" textLength="132" lengthAdjust="spacingAndGlyphs" stroke="#000" stroke-width="0.35">(JEDEC Method)</text>
<polyline points="209.8,1620.0 210.3,1622.2 210.8,1624.4 211.3,1626.5 211.7,1628.7 212.2,1630.9 212.6,1633.1 213.1,1635.2 213.7,1637.4 214.2,1639.6 214.8,1641.8 215.5,1644.0 216.3,1646.2 217.2,1648.7 218.3,1651.2 219.4,1653.7 220.5,1656.2 221.8,1658.8 223.0,1661.3 224.3,1663.8 225.7,1666.3 227.0,1668.8 228.4,1671.2 229.7,1673.5 231.1,1675.8 232.3,1677.8 233.6,1679.7 234.8,1681.6 236.1,1683.4 237.4,1685.2 238.7,1687.0 240.0,1688.7 241.3,1690.5 242.7,1692.3 244.1,1694.1 245.6,1696.0 247.1,1698.0 249.0,1700.5 251.0,1703.2 253.1,1705.9 255.2,1708.7 257.4,1711.6 259.6,1714.4 261.9,1717.2 264.1,1720.0 266.4,1722.7 268.6,1725.3 270.8,1727.7 273.0,1730.0 274.7,1731.7 276.4,1733.3 278.1,1734.7 279.7,1736.1 281.3,1737.5 283.0,1738.8 284.7,1740.1 286.4,1741.4 288.2,1742.7 290.0,1744.2 292.0,1745.7 294.0,1747.3 297.2,1749.9 300.6,1752.7 304.3,1755.7 308.0,1758.9 311.9,1762.1 315.9,1765.4 320.0,1768.6 324.1,1771.9 328.2,1775.0 332.2,1778.0 336.1,1780.9 340.0,1783.5 343.3,1785.7 346.7,1787.7 350.1,1789.7 353.4,1791.6 356.8,1793.5 360.1,1795.3 363.4,1797.1 366.7,1798.8 370.0,1800.4 373.2,1802.0 376.4,1803.6 379.5,1805.2 382.1,1806.5 384.6,1807.7 387.0,1808.9 389.4,1810.0 391.8,1811.2 394.1,1812.2 396.5,1813.3 398.9,1814.4 401.3,1815.5 403.8,1816.6 406.4,1817.8 409.1,1819.0 412.5,1820.6 416.1,1822.2 419.7,1823.8 423.5,1825.5 427.3,1827.2 431.1,1829.0 435.0,1830.7 438.9,1832.4 442.9,1834.0 446.8,1835.7 450.7,1837.2 454.5,1838.7 458.2,1840.1 461.9,1841.4 465.5,1842.7 469.1,1843.9 472.7,1845.1 476.3,1846.2 480.0,1847.4 483.7,1848.6 487.6,1849.7 491.5,1850.9 495.6,1852.2 499.9,1853.5 505.9,1855.3 512.2,1857.2 518.8,1859.2 525.6,1861.2 532.7,1863.3 539.8,1865.4 546.9,1867.4 554.0,1869.5 561.1,1871.5 567.9,1873.4 574.6,1875.2 581.0,1877.0 586.2,1878.4 591.4,1879.8 596.4,1881.1 601.4,1882.4 606.3,1883.7 611.2,1884.9 616.0,1886.1 620.8,1887.3 625.6,1888.5 630.4,1889.7 635.2,1890.8 640.0,1892.0 644.7,1893.1 649.4,1894.3 654.2,1895.5 658.9,1896.6 663.6,1897.7 668.3,1898.9 673.0,1900.0 677.6,1901.0 682.2,1902.0 686.8,1903.0 691.3,1903.9 695.7,1904.7 699.6,1905.4 703.4,1906.0 707.1,1906.5 710.8,1907.0 714.5,1907.5 718.1,1908.0 721.8,1908.4 725.4,1908.8 729.0,1909.2 732.7,1909.6 736.3,1910.1 740.0,1910.5 743.7,1910.9 747.3,1911.4 751.0,1911.8 754.7,1912.2 758.3,1912.7 762.0,1913.1 765.7,1913.5 769.3,1913.9 773.0,1914.3 776.7,1914.8 780.3,1915.2 784.0,1915.6" stroke-width="5.0" fill="none" stroke-linejoin="round" stroke-linecap="round"/>
<text x="203.5" y="1578.7" font-size="21" stroke-width="0.00" text-anchor="end" >35</text>
<text x="203.5" y="1632.8" font-size="21" stroke-width="0.00" text-anchor="end" >30</text>
<text x="203.5" y="1686.8" font-size="21" stroke-width="0.00" text-anchor="end" >25</text>
<text x="203.5" y="1740.9" font-size="21" stroke-width="0.00" text-anchor="end" >20</text>
<text x="203.5" y="1795.0" font-size="21" stroke-width="0.00" text-anchor="end" >15</text>
<text x="203.5" y="1849.1" font-size="21" stroke-width="0.00" text-anchor="end" >10</text>
<text x="203.5" y="1903.1" font-size="21" stroke-width="0.00" text-anchor="end" >5</text>
<text x="210.6" y="1964.5" font-size="21" stroke-width="0.00" text-anchor="middle" >1</text>
<text x="296.4" y="1964.5" font-size="21" stroke-width="0.00" text-anchor="middle" >2</text>
<text x="410.2" y="1964.5" font-size="21" stroke-width="0.00" text-anchor="middle" >5</text>
<text x="498.0" y="1964.5" font-size="21" stroke-width="0.00" text-anchor="middle" >10</text>
<text x="581.0" y="1964.5" font-size="21" stroke-width="0.00" text-anchor="middle" >20</text>
<text x="698.4" y="1964.5" font-size="21" stroke-width="0.00" text-anchor="middle" >50</text>
<text x="783.0" y="1964.5" font-size="21" stroke-width="0.00" text-anchor="middle" >100</text>
<text x="336.3" y="1992.0" font-size="20.5" stroke-width="0.00" textLength="308.4" lengthAdjust="spacingAndGlyphs" >NUMBER OF CYCLES AT 60 Hz</text>
<text x="164.2" y="1959.5" font-size="20.5" stroke-width="0.00" textLength="397" lengthAdjust="spacingAndGlyphs" transform="rotate(-90 164.2 1959.5)" >PEAK FORWARD SURGE CURRENT. (A)</text>
<text x="933.8" y="1532.8" font-size="28.5" stroke-width="0.40" textLength="526.6" lengthAdjust="spacingAndGlyphs" >FIG.6 – TYPICAL JUNCTION CAPACITANCE</text>
<line x1="980.6" y1="1552.4" x2="982.6" y2="1933.9" stroke-width="3.0" />
<line x1="1003.9" y1="1552.3" x2="1005.9" y2="1933.8" stroke-width="2.3" />
<line x1="1023.1" y1="1552.2" x2="1025.0" y2="1933.8" stroke-width="2.1" />
<line x1="1038.4" y1="1552.1" x2="1040.3" y2="1933.7" stroke-width="2.1" />
<line x1="1049.4" y1="1552.0" x2="1051.2" y2="1933.6" stroke-width="2.3" />
<line x1="1060.9" y1="1552.0" x2="1062.8" y2="1933.6" stroke-width="2.1" />
<line x1="1068.8" y1="1551.9" x2="1070.7" y2="1933.6" stroke-width="2.1" />
<line x1="1076.4" y1="1551.9" x2="1078.2" y2="1933.5" stroke-width="2.1" />
<line x1="1082.8" y1="1551.8" x2="1084.7" y2="1933.5" stroke-width="2.1" />
<line x1="1123.5" y1="1551.6" x2="1125.3" y2="1933.3" stroke-width="3.0" />
<line x1="1146.8" y1="1551.5" x2="1148.6" y2="1933.2" stroke-width="2.3" />
<line x1="1166.0" y1="1551.4" x2="1167.7" y2="1933.2" stroke-width="2.1" />
<line x1="1181.3" y1="1551.3" x2="1183.0" y2="1933.1" stroke-width="2.1" />
<line x1="1192.3" y1="1551.3" x2="1194.0" y2="1933.0" stroke-width="2.3" />
<line x1="1203.8" y1="1551.2" x2="1205.6" y2="1933.0" stroke-width="2.1" />
<line x1="1211.7" y1="1551.2" x2="1213.4" y2="1933.0" stroke-width="2.1" />
<line x1="1219.3" y1="1551.1" x2="1221.0" y2="1932.9" stroke-width="2.1" />
<line x1="1225.7" y1="1551.1" x2="1227.4" y2="1932.9" stroke-width="2.1" />
<line x1="1266.4" y1="1550.9" x2="1268.1" y2="1932.7" stroke-width="3.0" />
<line x1="1289.7" y1="1550.8" x2="1291.4" y2="1932.6" stroke-width="2.3" />
<line x1="1308.9" y1="1550.7" x2="1310.5" y2="1932.6" stroke-width="2.1" />
<line x1="1324.2" y1="1550.6" x2="1325.8" y2="1932.5" stroke-width="2.1" />
<line x1="1335.2" y1="1550.5" x2="1336.7" y2="1932.4" stroke-width="2.3" />
<line x1="1346.7" y1="1550.5" x2="1348.3" y2="1932.4" stroke-width="2.1" />
<line x1="1354.6" y1="1550.4" x2="1356.2" y2="1932.4" stroke-width="2.1" />
<line x1="1362.2" y1="1550.4" x2="1363.7" y2="1932.3" stroke-width="2.1" />
<line x1="1368.6" y1="1550.3" x2="1370.2" y2="1932.3" stroke-width="2.1" />
<line x1="1409.3" y1="1550.1" x2="1410.8" y2="1932.1" stroke-width="3.0" />
<line x1="1432.6" y1="1550.0" x2="1434.1" y2="1932.0" stroke-width="2.3" />
<line x1="1451.8" y1="1549.9" x2="1453.2" y2="1932.0" stroke-width="2.1" />
<line x1="1467.1" y1="1549.8" x2="1468.5" y2="1931.9" stroke-width="2.1" />
<line x1="1478.1" y1="1549.8" x2="1479.5" y2="1931.8" stroke-width="2.3" />
<line x1="1489.6" y1="1549.7" x2="1491.1" y2="1931.8" stroke-width="2.1" />
<line x1="1497.5" y1="1549.7" x2="1498.9" y2="1931.8" stroke-width="2.1" />
<line x1="1505.1" y1="1549.6" x2="1506.5" y2="1931.7" stroke-width="2.1" />
<line x1="1511.5" y1="1549.6" x2="1512.9" y2="1931.7" stroke-width="2.1" />
<line x1="940.2" y1="1607.1" x2="1511.7" y2="1604.2" stroke-width="2.2" />
<line x1="940.5" y1="1661.6" x2="1511.9" y2="1658.8" stroke-width="2.2" />
<line x1="940.8" y1="1716.1" x2="1512.1" y2="1713.4" stroke-width="2.2" />
<line x1="941.0" y1="1770.6" x2="1512.3" y2="1767.9" stroke-width="2.2" />
<line x1="941.3" y1="1825.1" x2="1512.5" y2="1822.5" stroke-width="2.2" />
<line x1="941.6" y1="1879.6" x2="1512.7" y2="1877.1" stroke-width="2.2" />
<polygon points="939.9,1552.6 1511.5,1549.6 1512.9,1931.7 941.9,1934.1" stroke-width="3.2" fill="none" />
<g transform="translate(973.5 1731.5) rotate(29)">
<rect x="-2" y="-19" width="192" height="22" fill="#fff" stroke="none"/>
<text x="0" y="0" font-size="20" stroke-width="0.22" textLength="188" lengthAdjust="spacingAndGlyphs">SF11(L)G-SF14(L)G</text>
</g>
<g transform="translate(952.0 1784.0) rotate(24)">
<rect x="-2" y="-19" width="194" height="22" fill="#fff" stroke="none"/>
<text x="0" y="0" font-size="20" stroke-width="0.22" textLength="190" lengthAdjust="spacingAndGlyphs">SF15(L)G-SF16(L)G</text>
</g>
<rect x="1230.0" y="1782.0" width="80.0" height="24.0" fill="#fff" stroke="none"/>
<text x="1236.3" y="1800.7" font-size="20.5" stroke-width="0.25">T<tspan font-size="12.7" dy="3">J</tspan><tspan dy="-3">=25</tspan><tspan font-size="9.2" dy="-9">°</tspan><tspan dy="9">C</tspan></text>
<polyline points="941.5,1721.3 944.8,1723.4 948.1,1725.4 951.4,1727.5 954.7,1729.6 958.0,1731.7 961.3,1733.7 964.5,1735.8 967.8,1737.9 971.2,1740.0 974.5,1742.0 977.8,1744.1 981.2,1746.2 984.7,1748.4 988.2,1750.6 991.7,1752.8 995.3,1755.0 998.8,1757.2 1002.4,1759.4 1006.0,1761.6 1009.5,1763.8 1013.1,1765.9 1016.7,1768.1 1020.2,1770.1 1023.8,1772.1 1027.2,1773.9 1030.5,1775.7 1033.8,1777.4 1037.1,1779.1 1040.4,1780.7 1043.7,1782.3 1047.0,1784.0 1050.4,1785.6 1053.8,1787.2 1057.3,1788.9 1060.8,1790.7 1064.5,1792.5 1069.1,1794.8 1073.8,1797.2 1078.7,1799.7 1083.7,1802.2 1088.8,1804.8 1093.9,1807.4 1099.1,1810.0 1104.2,1812.6 1109.2,1815.1 1114.1,1817.5 1119.0,1819.8 1123.6,1822.0 1127.4,1823.8 1131.1,1825.5 1134.8,1827.2 1138.4,1828.8 1141.9,1830.4 1145.4,1831.9 1148.9,1833.5 1152.4,1835.0 1155.9,1836.4 1159.3,1837.8 1162.8,1839.2 1166.2,1840.6 1169.4,1841.8 1172.5,1843.0 1175.7,1844.1 1178.8,1845.2 1181.9,1846.3 1185.0,1847.4 1188.1,1848.4 1191.1,1849.4 1194.2,1850.4 1197.2,1851.5 1200.2,1852.5 1203.2,1853.5 1205.9,1854.5 1208.5,1855.4 1211.1,1856.3 1213.6,1857.2 1216.2,1858.1 1218.7,1859.0 1221.2,1859.9 1223.8,1860.9 1226.5,1861.8 1229.2,1862.7 1232.0,1863.6 1235.0,1864.6 1239.1,1865.9 1243.3,1867.2 1247.7,1868.6 1252.3,1869.9 1256.9,1871.3 1261.7,1872.7 1266.5,1874.1 1271.3,1875.5 1276.1,1876.8 1280.8,1878.1 1285.4,1879.4 1290.0,1880.6 1294.2,1881.7 1298.3,1882.8 1302.4,1883.9 1306.4,1884.9 1310.5,1886.0 1314.5,1887.0 1318.6,1888.0 1322.7,1888.9 1326.8,1889.8 1331.1,1890.7 1335.5,1891.6 1340.0,1892.4 1345.7,1893.3 1351.8,1894.2 1358.3,1895.1 1364.9,1895.9 1371.6,1896.6 1378.3,1897.3 1384.9,1898.0 1391.4,1898.6 1397.5,1899.1 1403.3,1899.6 1408.5,1900.1 1413.2,1900.5 1415.5,1900.7 1417.7,1900.9 1419.7,1901.0 1421.6,1901.1 1423.4,1901.2 1425.2,1901.3 1426.9,1901.4 1428.6,1901.5 1430.3,1901.6 1432.0,1901.7 1433.8,1901.8 1435.6,1901.9" stroke-width="2.4" fill="none" stroke-linejoin="round" stroke-linecap="round"/>
<polyline points="941.5,1778.6 944.8,1780.8 948.1,1783.1 951.4,1785.4 954.6,1787.7 957.9,1790.0 961.2,1792.3 964.5,1794.6 967.8,1796.8 971.1,1799.0 974.4,1801.2 977.8,1803.3 981.2,1805.4 984.7,1807.4 988.1,1809.4 991.7,1811.3 995.2,1813.3 998.8,1815.1 1002.3,1817.0 1005.9,1818.8 1009.5,1820.6 1013.1,1822.4 1016.7,1824.1 1020.3,1825.9 1023.8,1827.6 1027.2,1829.2 1030.5,1830.9 1033.8,1832.5 1037.1,1834.0 1040.4,1835.6 1043.6,1837.1 1047.0,1838.6 1050.3,1840.1 1053.7,1841.6 1057.2,1843.1 1060.8,1844.6 1064.5,1846.1 1069.0,1847.9 1073.8,1849.6 1078.7,1851.4 1083.7,1853.1 1088.8,1854.9 1093.9,1856.6 1099.1,1858.3 1104.2,1860.0 1109.2,1861.6 1114.2,1863.3 1119.0,1864.8 1123.6,1866.4 1127.4,1867.7 1131.0,1869.0 1134.6,1870.2 1138.1,1871.4 1141.5,1872.6 1145.0,1873.8 1148.4,1875.0 1151.8,1876.2 1155.3,1877.3 1158.8,1878.4 1162.5,1879.5 1166.2,1880.6 1170.5,1881.8 1174.8,1883.0 1179.2,1884.1 1183.7,1885.2 1188.2,1886.3 1192.7,1887.3 1197.3,1888.4 1202.0,1889.4 1206.7,1890.5 1211.4,1891.5 1216.2,1892.5 1221.0,1893.5 1226.5,1894.6 1232.1,1895.8 1237.9,1896.9 1243.8,1898.0 1249.7,1899.1 1255.7,1900.2 1261.6,1901.3 1267.5,1902.3 1273.3,1903.3 1279.0,1904.2 1284.6,1905.1 1290.0,1906.0 1294.5,1906.7 1298.9,1907.3 1303.3,1908.0 1307.7,1908.6 1312.0,1909.1 1316.3,1909.7 1320.5,1910.2 1324.6,1910.7 1328.6,1911.2 1332.5,1911.6 1336.3,1912.1 1340.0,1912.5 1342.7,1912.8 1345.4,1913.1 1348.0,1913.4 1350.5,1913.6 1353.0,1913.8 1355.4,1914.1 1357.8,1914.3 1360.1,1914.5 1362.5,1914.7 1364.9,1914.9 1367.3,1915.2 1369.8,1915.4" stroke-width="3.0" fill="none" stroke-linejoin="round" stroke-linecap="round"/>
<text x="921.0" y="1562.6" font-size="20.5" stroke-width="0.00" text-anchor="end" >175</text>
<text x="921.0" y="1617.1" font-size="20.5" stroke-width="0.00" text-anchor="end" >150</text>
<text x="921.0" y="1671.6" font-size="20.5" stroke-width="0.00" text-anchor="end" >125</text>
<text x="921.0" y="1726.1" font-size="20.5" stroke-width="0.00" text-anchor="end" >100</text>
<text x="921.0" y="1780.6" font-size="20.5" stroke-width="0.00" text-anchor="end" >75</text>
<text x="921.0" y="1835.1" font-size="20.5" stroke-width="0.00" text-anchor="end" >50</text>
<text x="921.0" y="1889.6" font-size="20.5" stroke-width="0.00" text-anchor="end" >25</text>
<text x="935.2" y="1955.5" font-size="20.5" stroke-width="0.00" text-anchor="middle" >.1</text>
<text x="1037.0" y="1955.5" font-size="20.5" stroke-width="0.00" text-anchor="middle" >.5</text>
<text x="1083.0" y="1955.5" font-size="20.5" stroke-width="0.00" text-anchor="middle" >1</text>
<text x="1124.0" y="1955.5" font-size="20.5" stroke-width="0.00" text-anchor="middle" >2</text>
<text x="1182.3" y="1955.5" font-size="20.5" stroke-width="0.00" text-anchor="middle" >5</text>
<text x="1225.5" y="1955.5" font-size="20.5" stroke-width="0.00" text-anchor="middle" >10</text>
<text x="1266.5" y="1955.5" font-size="20.5" stroke-width="0.00" text-anchor="middle" >20</text>
<text x="1324.7" y="1955.5" font-size="20.5" stroke-width="0.00" text-anchor="middle" >50</text>
<text x="1371.0" y="1955.5" font-size="20.5" stroke-width="0.00" text-anchor="middle" >100</text>
<text x="1413.3" y="1955.5" font-size="20.5" stroke-width="0.00" text-anchor="middle" >200</text>
<text x="1470.0" y="1955.5" font-size="20.5" stroke-width="0.00" text-anchor="middle" >500</text>
<text x="1513.6" y="1955.5" font-size="20.5" stroke-width="0.00" text-anchor="middle" >1000</text>
<text x="1115.4" y="1984.0" font-size="20.5" stroke-width="0.00" textLength="237.4" lengthAdjust="spacingAndGlyphs" >REVERSE VOLTAGE (V)</text>
<text x="877.1" y="1912.0" font-size="21" stroke-width="0.00" textLength="314" lengthAdjust="spacingAndGlyphs" transform="rotate(-90 877.1 1912.0)" >JUNCTION CAPACITANCE (pF)</text>
<polyline points="1500.0,1533.5 1504.0,1532.0 1511.0,1530.0 1515.0,1529.5" stroke-width="1.3" fill="none" />
<line x1="1515.5" y1="1527.5" x2="1521.0" y2="1527.0" stroke-width="1.3" />
<line x1="1515.0" y1="1523.0" x2="1519.0" y2="1523.0" stroke-width="1.1" />
</svg></body></html>
